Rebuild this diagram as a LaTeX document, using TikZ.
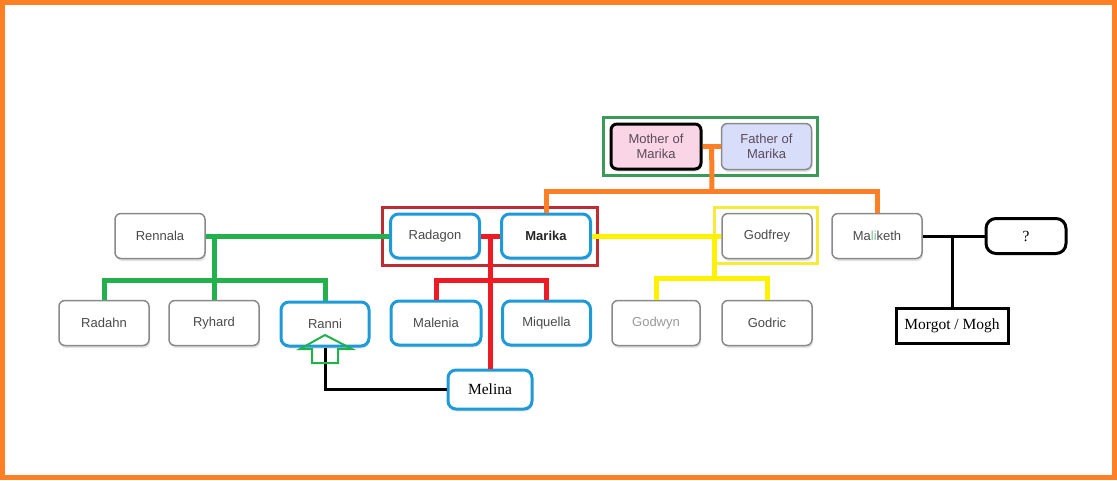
\documentclass[tikz,border=0pt]{standalone}
\usepackage{fontspec}
\setmainfont{Liberation Sans}
\newfontfamily\tms{Liberation Serif}
\usetikzlibrary{calc,shadows}
\definecolor{orangec}{HTML}{FF7F27}
\definecolor{greenl}{HTML}{22B14C}
\definecolor{redl}{HTML}{ED1C24}
\definecolor{yellowl}{HTML}{FFF200}
\definecolor{bluel}{HTML}{1E9AD8}
\definecolor{redbox}{HTML}{BE2D35}
\definecolor{greenbox}{HTML}{3C9A58}
\definecolor{yellowbox}{HTML}{F5EC3A}
\definecolor{pinkf}{HTML}{F9D5E5}
\definecolor{lavf}{HTML}{D8DEFA}
\definecolor{txtg}{HTML}{4A4A4A}
\definecolor{txtp}{HTML}{5A4A5A}
\definecolor{borderg}{HTML}{8A8A8A}
\definecolor{lig}{HTML}{7FBF9F}
\tikzset{
  base/.style={rectangle, inner sep=0pt, align=center, text=txtg,
    font=\fontsize{13}{15}\selectfont, fill=white,
    drop shadow={opacity=0.22, shadow xshift=1pt, shadow yshift=-2.5pt}},
  graybox/.style={base, draw=borderg, line width=1.5pt, rounded corners=6pt,
    minimum width=90pt, minimum height=45pt},
  bluebox/.style={base, draw=bluel, line width=3pt, rounded corners=8pt,
    minimum width=88pt, minimum height=44pt},
  blackbox/.style={rectangle, inner sep=0pt, draw=black, line width=3pt, fill=white,
    font=\tms\fontsize{15.5}{18}\selectfont, text=black},
  oline/.style={draw=orangec, line width=5pt},
  gline/.style={draw=greenl, line width=5pt},
  rline/.style={draw=redl, line width=5pt},
  yline/.style={draw=yellowl, line width=5pt},
  kline/.style={draw=black, line width=3pt},
}
\begin{document}
\begin{tikzpicture}[x=1pt, y=-1pt]
\useasboundingbox (0,0) rectangle (1117,480);
\fill[white] (0,0) rectangle (1117,480);
\draw[line width=5pt, orangec] (2.5,2.5) rectangle (1114.5,477.5);

% group rectangles
\draw[greenbox, line width=3pt] (603,117) rectangle (817,175);
\draw[redbox, line width=3pt] (382,207) rectangle (597,265);
\draw[yellowbox, line width=3pt] (714,207) rectangle (817,263);

% nodes
\node[graybox, fill=pinkf, draw=black, line width=3pt, text=txtp, minimum width=90pt, minimum height=45pt] (mother) at (656,146.5) {Mother of\\Marika};
\node[graybox, fill=lavf, text=txtp, minimum width=90pt, minimum height=46pt] (father) at (766.5,146.5) {Father of\\Marika};

\node[graybox] (rennala) at (160,236) {Rennala};
\node[bluebox, minimum width=89pt, minimum height=44pt] (radagon) at (435,236) {Radagon};
\node[bluebox, minimum width=89pt, minimum height=44pt, font=\fontsize{13}{15}\selectfont\bfseries, text=black!85] (marika) at (546,236) {Marika};
\node[graybox] (godfrey) at (767,236) {Godfrey};
\node[graybox] (maliketh) at (877,236) {Ma{\color{lig}li}keth};
\node[blackbox, rounded corners=10pt, minimum width=80pt, minimum height=35pt] (q) at (1026,236) {?};

\node[graybox] (radahn) at (104,323) {Radahn};
\node[graybox] (ryhard) at (214,323) {Ryhard};
\node[bluebox] (ranni) at (325,324) {Ranni};
\node[bluebox, minimum width=90pt] (malenia) at (436,323) {Malenia};
\node[bluebox] (miquella) at (546.5,323) {Miquella};
\node[graybox, minimum width=88pt, text=black!40] (godwyn) at (656,323) {Godwyn};
\node[graybox] (godric) at (767,323) {Godric};
\node[blackbox, minimum width=112pt, minimum height=35pt] (morgot) at (952,325.5) {Morgot / Mogh};

\node[bluebox, minimum width=84pt, minimum height=39pt, font=\tms\fontsize{15.5}{18}\selectfont, text=black] (melina) at (490,389.5) {Melina};

% orange connectors
\coordinate (om) at ($(mother.east)!0.5!(father.west)$);
\coordinate (ob) at (712,191);
\draw[oline] (mother.east) -- (father.west);
\draw[oline] (om) -- (ob);
\draw[oline] (marika.north) |- (ob) -| (maliketh.north);

% green connectors
\coordinate (gb) at (214,280);
\draw[gline] (rennala.east) -- (radagon.west);
\draw[gline] (ryhard.north) -- (ryhard.north |- rennala.east);
\draw[gline] (radahn.north) |- (gb) -| (ranni.north);

% red connectors
\coordinate (rt) at ($(radagon.east)!0.5!(marika.west)$);
\coordinate (rb) at (rt |- gb);
\draw[rline] (radagon.east) -- (marika.west);
\draw[rline] (rt) -- (rt |- melina.north);
\draw[rline] (malenia.north) |- (rb) -| (miquella.north);

% yellow connectors
\coordinate (yt) at (714,236);
\coordinate (yb) at (714,278);
\draw[yline] (marika.east) -- (godfrey.west);
\draw[yline] (yt) -- (yb);
\draw[yline] (godwyn.north) |- (yb) -| (godric.north);

% black connectors
\coordinate (kb) at (952,236);
\draw[kline] (maliketh.east) -- (q.west);
\draw[kline] (morgot.north) -- (kb);
\draw[kline] (melina.west) -| (ranni.south);

% green arrow outline under Ranni
\draw[greenl, line width=2pt, line join=miter]
  (325,335) -- (352,349) -- (338,349) -- (338,363) -- (312,363) -- (312,349) -- (300,349) -- cycle;
\draw[kline] (325,349) -- (ranni.south);
\end{tikzpicture}
\end{document}
